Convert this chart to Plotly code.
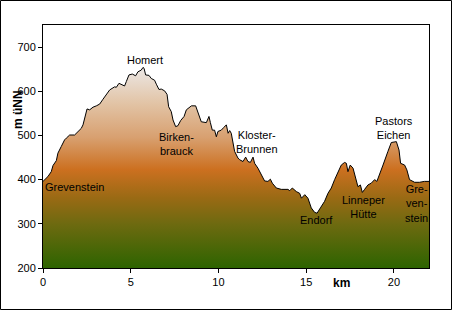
import plotly.graph_objects as go

# Elevation profile (km, m above sea level)
km = [0.00, 0.28, 0.47, 0.57, 0.76, 0.85, 1.04, 1.23, 1.33, 1.52, 1.80, 1.99, 2.18, 2.28, 2.43, 2.51,
      2.66, 2.85, 3.04, 3.23, 3.42, 3.61, 3.80, 4.08, 4.18, 4.33, 4.46, 4.65, 4.75, 4.90, 5.09, 5.28,
      5.41, 5.60, 5.70, 5.76, 5.85, 6.04, 6.17, 6.36, 6.46, 6.61, 6.74, 6.93, 7.07, 7.16, 7.31, 7.41,
      7.56, 7.69, 7.85, 8.04, 8.17, 8.46, 8.70, 8.83, 9.02, 9.31, 9.46, 9.54, 9.65, 9.78, 9.88, 9.97,
      10.16, 10.30, 10.45, 10.55, 10.64, 10.73, 10.92, 11.11, 11.21, 11.40, 11.55, 11.68, 11.82, 11.97,
      12.06, 12.25, 12.44, 12.63, 12.82, 12.96, 13.07, 13.30, 13.58, 13.96, 14.06, 14.21, 14.44, 14.63,
      14.73, 14.92, 15.10, 15.29, 15.48, 15.62, 15.81, 16.05, 16.24, 16.43, 16.62, 16.81, 17.00, 17.19,
      17.29, 17.38, 17.51, 17.67, 17.82, 17.95, 18.09, 18.20, 18.33, 18.52, 18.71, 18.90, 19.03, 19.19,
      19.38, 19.66, 19.85, 20.14, 20.29, 20.38, 20.61, 20.74, 20.89, 21.18, 21.46, 21.74, 22.00]
elev = [396, 407, 418, 432, 443, 460, 475, 490, 494, 501, 501, 509, 516, 524, 550, 560,
        558, 564, 567, 571, 582, 592, 603, 610, 609, 618, 616, 612, 622, 637, 639, 635,
        644, 648, 654, 652, 637, 636, 629, 625, 616, 604, 605, 601, 593, 565, 554, 535,
        520, 522, 534, 543, 558, 567, 567, 554, 531, 529, 543, 529, 512, 512, 497, 509,
        512, 518, 524, 505, 511, 505, 464, 449, 445, 441, 451, 441, 439, 451,
        437, 426, 411, 397, 396, 401, 392, 381, 378, 378, 375, 381, 373, 369,
        358, 366, 358, 336, 326, 324, 336, 351, 369, 381, 400, 418, 433, 439,
        437, 418, 433, 426, 400, 384, 388, 371, 378, 388, 392, 400, 396, 415,
        433, 464, 484, 486, 467, 437, 433, 422, 400, 394, 394, 396, 396]

# Place-name labels
label_text = ["Grevenstein", "Homert", "Birken-<br>brauck", "Kloster-<br>Brunnen", "Endorf",
              "Linneper<br>Hütte", "Pastors<br>Eichen", "Gre-<br>ven-<br>stein"]
label_x = [1.8, 5.8, 7.6, 12.2, 15.6, 18.27, 20.0, 21.28]
label_y = [384, 670, 481, 485, 309, 338, 517, 345]

x_ticks = [0, 5, 10, 15, 20]
y_ticks = [200, 300, 400, 500, 600, 700]

FONT = "Liberation Sans, Arial, sans-serif"

fig = go.Figure()
fig.add_trace(go.Scatter(
    x=km, y=elev, mode="lines", line=dict(color="black", width=1),
    fill="tozeroy",
    fillgradient=dict(
        type="vertical", start=200, stop=655,
        colorscale=[[0.0, "#2d6400"], [0.22, "#6e6a10"], [0.35, "#9a6a14"],
                    [0.49, "#cc7020"], [0.65, "#d8a070"], [0.82, "#e2c4a6"],
                    [1.0, "#ece8e6"]]),
    hoverinfo="skip", showlegend=False))

for t, x, y in zip(label_text, label_x, label_y):
    fig.add_annotation(x=x, y=y, text=t, showarrow=False,
                       font=dict(family=FONT, size=11, color="black"),
                       align="center")

# Axis titles
fig.add_annotation(xref="paper", yref="paper", x=(352 - 43) / 386, y=(268 - 292) / 243,
                   text="<b>km</b>", showarrow=False,
                   font=dict(family=FONT, size=12, color="black"))
fig.add_annotation(xref="paper", yref="paper", x=(9 - 43) / 386, y=(268 - 110) / 243,
                   text="<b>m üNN</b>", showarrow=False, textangle=-90,
                   font=dict(family=FONT, size=12, color="black"))

# Outer chart border
fig.add_shape(type="rect", xref="paper", yref="paper",
              x0=(0.5 - 43) / 386, x1=(451.5 - 43) / 386,
              y0=(268 - 309.5) / 243, y1=(268 - 0.5) / 243,
              line=dict(color="black", width=1), fillcolor="rgba(0,0,0,0)")

fig.update_layout(
    width=452, height=310,
    margin=dict(l=43, r=23, t=25, b=42),
    paper_bgcolor="white", plot_bgcolor="white",
    font=dict(family=FONT, size=11, color="black"),
    xaxis=dict(range=[0, 22], tickvals=x_ticks, ticks="outside", ticklen=4,
               tickcolor="black", showgrid=False, zeroline=False,
               showline=True, linecolor="black", linewidth=1, mirror=True,
               tickfont=dict(family=FONT, size=11)),
    yaxis=dict(range=[200, 750], tickvals=y_ticks, ticks="outside", ticklen=4,
               tickcolor="black", showgrid=False, zeroline=False,
               showline=True, linecolor="black", linewidth=1, mirror=True,
               tickfont=dict(family=FONT, size=11)),
)

fig.write_html("out.html")
